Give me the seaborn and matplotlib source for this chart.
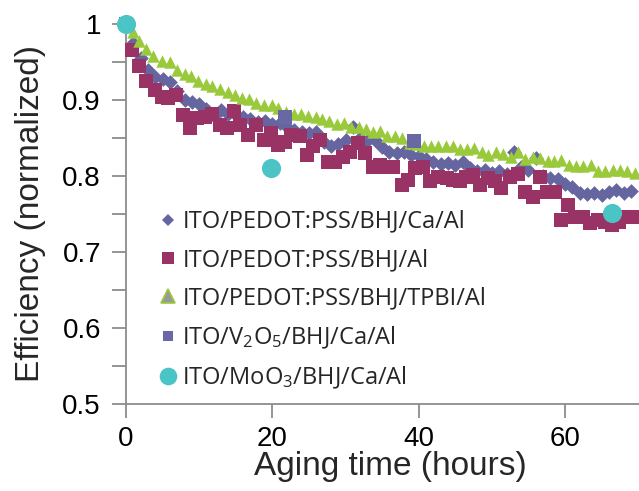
import matplotlib
matplotlib.use("Agg")
import matplotlib.pyplot as plt
from matplotlib.lines import Line2D
from matplotlib.ticker import MultipleLocator, FuncFormatter
import seaborn as sns

# Aging time (hours) and normalized efficiency for each device stack
ca_al_hours = list(range(0, 70))
ca_al_eff = [1.000, 0.975, 0.955, 0.940, 0.930, 0.928, 0.924, 0.912, 0.900, 0.897,
             0.895, 0.888, 0.879, 0.887, 0.882, 0.880, 0.878, 0.875, 0.871, 0.872,
             0.868, 0.870, 0.865, 0.861, 0.858, 0.856, 0.858, 0.845, 0.840, 0.842,
             0.848, 0.864, 0.850, 0.846, 0.848, 0.838, 0.832, 0.830, 0.832, 0.828,
             0.826, 0.822, 0.818, 0.816, 0.817, 0.815, 0.818, 0.810, 0.806, 0.808,
             0.804, 0.806, 0.803, 0.831, 0.812, 0.808, 0.824, 0.800, 0.798, 0.796,
             0.790, 0.785, 0.777, 0.776, 0.778, 0.775, 0.779, 0.782, 0.778, 0.780]

al_hours = [0.0, 0.8, 1.8, 2.8, 4.0, 4.9, 5.8, 6.8, 7.8, 8.8, 9.7, 10.8, 11.8, 12.8,
            13.8, 14.7, 15.6, 16.7, 17.8, 18.8, 19.8, 20.8, 21.7, 22.6, 23.8, 24.7,
            25.6, 26.5, 27.6, 28.6, 29.6, 30.6, 31.7, 32.7, 33.8, 34.7, 35.6, 36.5,
            37.7, 38.6, 39.5, 40.6, 41.5, 42.7, 43.8, 44.7, 45.6, 46.5, 47.4, 48.4,
            49.5, 50.4, 51.3, 52.5, 53.5, 54.5, 55.6, 56.6, 57.5, 58.6, 59.4, 60.4,
            61.3, 62.5, 63.4, 64.5, 65.4, 66.4, 67.3, 68.4, 69.5]
al_eff = [1.000, 0.966, 0.945, 0.925, 0.913, 0.904, 0.902, 0.907, 0.880, 0.863,
          0.876, 0.878, 0.882, 0.867, 0.863, 0.885, 0.867, 0.854, 0.867, 0.847,
          0.856, 0.841, 0.845, 0.854, 0.852, 0.828, 0.839, 0.847, 0.819, 0.819,
          0.825, 0.832, 0.843, 0.830, 0.812, 0.815, 0.812, 0.812, 0.788, 0.795,
          0.810, 0.812, 0.793, 0.799, 0.797, 0.795, 0.793, 0.799, 0.801, 0.788,
          0.797, 0.793, 0.784, 0.799, 0.803, 0.779, 0.773, 0.799, 0.779, 0.779,
          0.742, 0.762, 0.746, 0.746, 0.738, 0.742, 0.740, 0.736, 0.740, 0.746,
          0.746]

tpbi_hours = [0.0, 0.9, 1.8, 2.8, 3.7, 4.9, 6.0, 7.0, 8.0, 8.9, 9.8, 10.9, 11.8,
              12.8, 13.9, 14.9, 15.8, 16.8, 17.8, 18.8, 19.9, 20.8, 21.9, 23.0,
              23.9, 24.9, 25.9, 26.8, 27.7, 28.8, 29.8, 30.8, 31.8, 32.8, 33.8,
              34.7, 35.7, 36.7, 37.7, 38.8, 39.7, 40.7, 41.7, 42.7, 43.7, 44.7,
              45.6, 46.6, 47.6, 48.6, 49.5, 50.5, 51.5, 52.6, 53.6, 54.5, 55.6,
              56.6, 57.6, 58.5, 59.5, 60.5, 61.5, 62.5, 63.5, 64.5, 65.5, 66.5,
              67.5, 68.4, 69.5]
tpbi_eff = [1.000, 0.989, 0.978, 0.967, 0.958, 0.951, 0.950, 0.940, 0.934, 0.932,
            0.925, 0.921, 0.918, 0.914, 0.910, 0.906, 0.903, 0.901, 0.896, 0.894,
            0.893, 0.889, 0.884, 0.881, 0.882, 0.879, 0.877, 0.875, 0.872, 0.868,
            0.870, 0.865, 0.864, 0.862, 0.858, 0.859, 0.852, 0.852, 0.850, 0.844,
            0.842, 0.839, 0.839, 0.839, 0.839, 0.839, 0.835, 0.835, 0.837, 0.832,
            0.827, 0.832, 0.829, 0.825, 0.831, 0.822, 0.825, 0.824, 0.820, 0.820,
            0.821, 0.814, 0.813, 0.813, 0.814, 0.807, 0.807, 0.808, 0.808, 0.807,
            0.804]

v2o5_hours = [0.0, 21.7, 39.4]
v2o5_eff = [1.000, 0.878, 0.846]

moo3_hours = [0.0, 19.8, 66.4]
moo3_eff = [1.000, 0.811, 0.751]

labels = ["ITO/PEDOT:PSS/BHJ/Ca/Al",
          "ITO/PEDOT:PSS/BHJ/Al",
          "ITO/PEDOT:PSS/BHJ/TPBI/Al",
          "ITO/V$_2$O$_5$/BHJ/Ca/Al",
          "ITO/MoO$_3$/BHJ/Ca/Al"]

x_ticks = [0, 20, 40, 60]

C_DIAMOND = "#6565A0"
C_SQUARE = "#993366"
C_GREEN = "#9ACA3C"
C_V2O5 = "#6868A2"
C_CYAN = "#4BC4C6"
AXIS_GRAY = "#8c8c8c"

sns.set_theme(style="white")
plt.rcParams["font.family"] = ["Liberation Sans", "DejaVu Sans"]
plt.rcParams["mathtext.fontset"] = "custom"
plt.rcParams["mathtext.rm"] = "Open Sans"
plt.rcParams["mathtext.default"] = "rm"

fig = plt.figure(figsize=(6.39, 4.91), dpi=100)
ax = fig.add_axes([126 / 639, 1 - 404 / 491, 513 / 639, 380 / 491])

common = dict(ax=ax, legend=False, clip_on=False, linewidth=0)
sns.scatterplot(x=ca_al_hours, y=ca_al_eff, marker="D", s=56, color=C_DIAMOND,
                zorder=3, **common)
sns.scatterplot(x=al_hours, y=al_eff, marker="s", s=100, color=C_SQUARE,
                zorder=4, **common)
sns.scatterplot(x=tpbi_hours, y=tpbi_eff, marker="^", s=80, color=C_GREEN,
                zorder=5, **common)
sns.scatterplot(x=v2o5_hours, y=v2o5_eff, marker="s", s=92, color=C_V2O5,
                zorder=6, **common)
sns.scatterplot(x=moo3_hours, y=moo3_eff, marker="o", s=190, color=C_CYAN,
                zorder=7, **common)

ax.set_xlim(0, 70.1)
ax.set_ylim(0.5, 1.0)
ax.xaxis.set_major_locator(plt.FixedLocator(x_ticks))
ax.yaxis.set_major_locator(MultipleLocator(0.1))
ax.yaxis.set_minor_locator(MultipleLocator(0.05))
ax.yaxis.set_major_formatter(FuncFormatter(lambda v, p: f"{v:g}"))

for side in ("top", "right"):
    ax.spines[side].set_visible(False)
for side in ("left", "bottom"):
    ax.spines[side].set_color(AXIS_GRAY)
    ax.spines[side].set_linewidth(1.3)

ax.tick_params(axis="both", which="both", direction="out", length=10, width=1.3,
               color=AXIS_GRAY, labelsize=20, labelcolor="black")
ax.tick_params(axis="y", which="both", left=True, pad=8)
ax.tick_params(axis="x", which="both", bottom=True, pad=6)

ax.set_xlabel("Aging time (hours)", fontsize=24, labelpad=-1)
ax.xaxis.label.set_x(0.515)
ax.set_ylabel("Efficiency (normalized)", fontsize=24, labelpad=12)

handles = [
    Line2D([], [], ls="none", marker="D", ms=6.5, color=C_DIAMOND, mew=0),
    Line2D([], [], ls="none", marker="s", ms=8.6, color=C_SQUARE, mew=0),
    Line2D([], [], ls="none", marker="^", ms=9.4, markerfacecolor="#999999",
           markeredgecolor=C_GREEN, mew=1.2),
    Line2D([], [], ls="none", marker="s", ms=7.7, color=C_V2O5, mew=0),
    Line2D([], [], ls="none", marker="o", ms=12.7, color=C_CYAN, mew=0),
]
leg = fig.legend(handles, labels, loc="upper left",
                 bbox_to_anchor=(147 / 639, 1 - 198 / 491),
                 frameon=False, borderpad=0, handlelength=0.8,
                 handletextpad=0.2, labelspacing=0.6,
                 prop={"family": "Open Sans", "size": 17})

fig.savefig("out.png", dpi=100, facecolor="white")
